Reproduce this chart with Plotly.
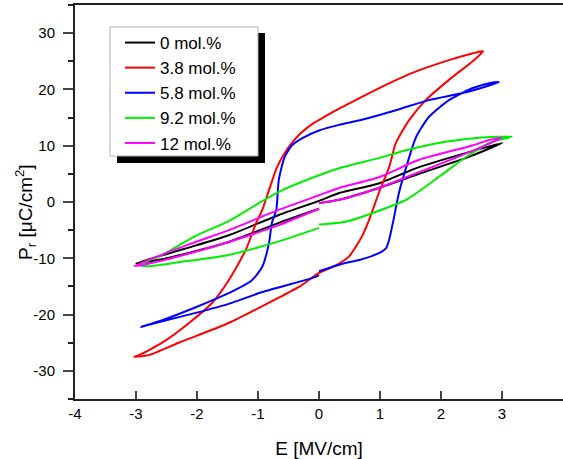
import plotly.graph_objects as go

# ---- data ----
labels = ["0 mol.%", "3.8 mol.%", "5.8 mol.%", "9.2 mol.%", "12 mol.%"]
colors = ["#000000", "#ff0000", "#0000ff", "#00ee00", "#ff00ff"]

E_0 = [0, 0.33, 0.98, 1.64, 2.5, 3.0, 2.5, 1.64, 0.98, 0.33, 0, -0.66, -1.48, -2.2, -3.0,
       -2.5, -1.48, -0.66, 0]
P_0 = [-0.2, 0.4, 2.5, 5.0, 8.2, 10.5, 9.0, 6.2, 3.3, 1.6, 0.2, -2.3, -5.9, -8.3, -10.9,
       -10.0, -7.1, -3.7, -1.2]

E_38 = [0, 0.25, 0.49, 0.70, 0.82, 0.98, 1.15, 1.26, 1.48, 1.75, 2.13, 2.54, 2.69, 2.45,
        2.13, 1.52, 0.98, 0.60, 0.33, 0.10, -0.12, -0.30, -0.45, -0.58, -0.70, -0.82, -0.93,
        -1.03, -1.20, -1.48, -1.75, -2.13, -2.57, -2.95, -3.03, -2.79, -2.30, -1.48, -0.66,
        -0.30, 0]
P_38 = [-12.6, -11.4, -9.7, -6.2, -3.2, 1.6, 6.2, 10.5, 14.6, 18.1, 21.7, 25.2, 26.8, 26.2,
        25.2, 22.9, 20.2, 18.1, 16.6, 15.2, 13.8, 12.2, 10.4, 8.4, 5.9, 2.1, -1.4,
        -3.7, -8.5, -13.9, -17.9, -21.5, -25.0, -27.2, -27.5, -27.2, -25.0, -21.5, -17.0,
        -14.9, -12.6]

E_58 = [0, 0.44, 0.66, 0.98, 1.10, 1.15, 1.23, 1.31, 1.43, 1.59, 1.80, 2.13, 2.51, 2.79, 2.95,
        2.41, 1.80, 1.26, 0.70, 0.33, 0, -0.28, -0.45, -0.57, -0.66, -0.70, -0.77, -0.82,
        -0.93, -1.10, -1.48, -2.02, -2.57, -2.92, -2.79, -2.02, -1.48, -0.93, -0.05, 0]
P_58 = [-12.3, -10.8, -10.3, -9.1, -8.2, -6.7, -2.7, 1.6, 6.2, 11.5, 15.1, 18.1, 20.2, 21.1, 21.3,
        19.5, 18.1, 16.3, 14.6, 13.7, 12.7, 11.3, 10.0, 7.8, 3.9, -1.4, -3.6, -7.3,
        -11.5, -13.9, -16.2, -18.7, -21.0, -22.2, -21.8, -19.7, -18.1, -16.0, -13.3, -13.0]

E_92 = [0, 0.44, 0.87, 1.43, 1.97, 2.41, 2.84, 3.16, 2.62, 2.08, 1.43, 0.98, 0.33, -0.11,
        -0.66, -1.03, -1.48, -2.02, -2.57, -2.95, -2.79, -2.30, -1.48, -0.66, 0]
P_92 = [-4.0, -3.5, -2.0, 0.4, 4.5, 8.0, 10.7, 11.6, 11.4, 10.7, 9.2, 7.8, 6.0, 4.3,
        1.8, -0.5, -3.4, -6.0, -9.4, -11.2, -11.4, -10.7, -9.4, -7.0, -4.6]

E_12 = [0, 0.33, 0.98, 1.64, 2.5, 3.0, 2.79, 2.5, 1.64, 0.98, 0.33, 0, -0.66, -1.48, -2.2,
        -3.03, -2.5, -1.48, -0.66, 0]
P_12 = [-0.2, 0.4, 2.5, 5.3, 9.0, 11.4, 11.0, 10.0, 7.5, 4.4, 2.5, 1.2, -1.4, -5.0, -7.8,
        -11.4, -10.2, -7.1, -4.1, -1.2]

series_E = [E_0, E_38, E_58, E_92, E_12]
series_P = [P_0, P_38, P_58, P_92, P_12]

x_ticks = [-4, -3, -2, -1, 0, 1, 2, 3, 4]
x_ticktext = ["-4", "-3", "-2", "-1", "0", "1", "2", "3", "4"]
y_ticks = [-30, -20, -10, 0, 10, 20, 30]
y_ticktext = ["-30", "-20", "-10", "0", "10", "20", "30"]

FONT = "Liberation Sans, Arial, sans-serif"

fig = go.Figure()
for lab, col, ex, pp in zip(labels, colors, series_E, series_P):
    fig.add_trace(go.Scatter(x=ex, y=pp, mode="lines", name=lab,
                             line=dict(color=col, width=2, shape="spline", smoothing=0.6)))

W, H = 563, 459
ml, mr, mt, mb = 75, 0, 5, 60
pw, ph = W - ml - mr, H - mt - mb


def px_x(p):
    return (p - ml) / pw


def px_y(p):
    return (H - mb - p) / ph


shapes = [
    dict(type="rect", xref="paper", yref="paper", layer="above",
         x0=px_x(117), x1=px_x(265), y0=px_y(163), y1=px_y(33),
         fillcolor="black", line=dict(width=0)),
    dict(type="rect", xref="paper", yref="paper", layer="above",
         x0=px_x(110), x1=px_x(258), y0=px_y(156), y1=px_y(27),
         fillcolor="white", line=dict(color="#b0b0b0", width=1)),
]

annotations = [
    dict(text="P<sub>r</sub> [μC/cm<sup>2</sup>]", xref="paper", yref="paper",
         x=px_x(25), y=px_y(212), textangle=-90, showarrow=False,
         xanchor="center", yanchor="middle", font=dict(size=19, family=FONT)),
]

fig.update_layout(
    width=W, height=H,
    margin=dict(l=ml, r=mr, t=mt, b=mb),
    paper_bgcolor="white", plot_bgcolor="white",
    font=dict(family=FONT, color="black", size=15),
    showlegend=True,
    legend=dict(x=px_x(120), y=px_y(25), xanchor="left", yanchor="top",
                bgcolor="rgba(0,0,0,0)", borderwidth=0,
                font=dict(size=17, family=FONT), tracegroupgap=0),
    shapes=shapes,
    annotations=annotations,
    xaxis=dict(range=[-4, 4], tickvals=x_ticks, ticktext=x_ticktext,
               ticks="inside", ticklen=8, tickwidth=2,
               showline=True, linewidth=2, linecolor="#222", mirror=True,
               showgrid=False, zeroline=False, tickfont=dict(size=15),
               title=dict(text="E [MV/cm]", font=dict(size=19), standoff=21)),
    yaxis=dict(range=[-35, 35], tickvals=y_ticks, ticktext=y_ticktext,
               ticks="outside", ticklen=10, tickwidth=2, ticklabelstandoff=5,
               showline=True, linewidth=2, linecolor="#222", mirror=False,
               showgrid=False, zeroline=False, tickfont=dict(size=15),
               minor=dict(dtick=5, ticks="outside", ticklen=5, tickwidth=1.5, tickcolor="#222")),
)

fig.write_html("out.html", config={"displayModeBar": False},
               post_script="document.body.style.margin='0';")
